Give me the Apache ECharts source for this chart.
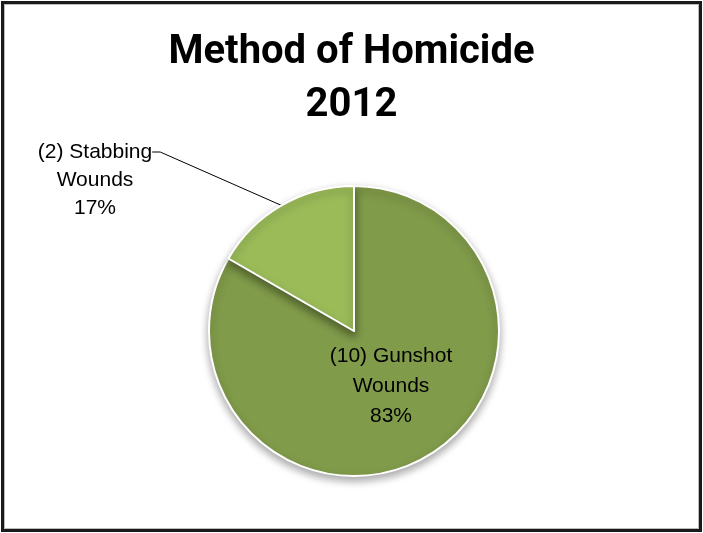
<!DOCTYPE html>
<html>
<head>
<meta charset="utf-8">
<script src="https://cdn.jsdelivr.net/npm/echarts@6/dist/echarts.min.js"></script>
<style>
  html, body { margin: 0; padding: 0; background: #fff; }
  #frame {
    position: absolute; left: 1px; top: 1px; width: 695px; height: 525px;
    border: 3px solid #1a1a1a; box-shadow: inset 0 0 0 1px #bbb;
  }
  #chart { position: absolute; left: 0; top: 0; width: 703px; height: 533px; }
</style>
</head>
<body>
<div id="frame"></div>
<div id="chart"></div>
<script>
const categories = ['(10) Gunshot\nWounds', '(2) Stabbing\nWounds'];
const counts = [10, 2];
const colors = ['#809b4a', '#9bbb59'];
// label anchor points (center of the text block)
const labelSpots = [[391, 386], [95, 152]];

const chart = echarts.init(document.getElementById('chart'));

const pct = p => Math.round(p.percent) + '%';

chart.setOption({
    title: {
        text: 'Method of Homicide\n2012',
        left: 'center',
        top: 21,
        textStyle: {
            fontFamily: 'Roboto',
            fontWeight: 'bold',
            fontSize: 40,
            lineHeight: 53,
            color: '#000'
        }
    },
    series: [
        {
            type: 'pie',
            center: [354, 331],
            radius: 145,
            startAngle: 90,
            clockwise: true,
            animation: false,
            data: categories.map((c, i) => ({
                name: c,
                value: counts[i],
                itemStyle: { color: colors[i] },
                // stabbing: two blank lines on top so the leader line meets the first text line
                label: i === 1
                    ? { lineHeight: 28, formatter: p => '\n\n' + p.name + '\n' + pct(p) }
                    : { lineHeight: 30 },
                labelLine: { show: i === 1 }
            })),
            itemStyle: {
                borderColor: '#fff',
                borderWidth: 2,
                shadowBlur: 8,
                shadowOffsetY: 4,
                shadowColor: 'rgba(0,0,0,0.35)'
            },
            label: {
                show: true,
                position: 'outside',
                formatter: p => p.name + '\n' + pct(p),
                fontFamily: 'Liberation Sans',
                fontSize: 21,
                color: '#000',
                align: 'center'
            },
            labelLine: {
                length: 20,
                length2: 8,
                lineStyle: { color: '#000', width: 1 }
            },
            labelLayout: function (params) {
                const s = labelSpots[params.dataIndex];
                return { x: s[0], y: s[1], align: 'center', verticalAlign: 'middle' };
            }
        }
    ]
});
</script>
</body>
</html>
